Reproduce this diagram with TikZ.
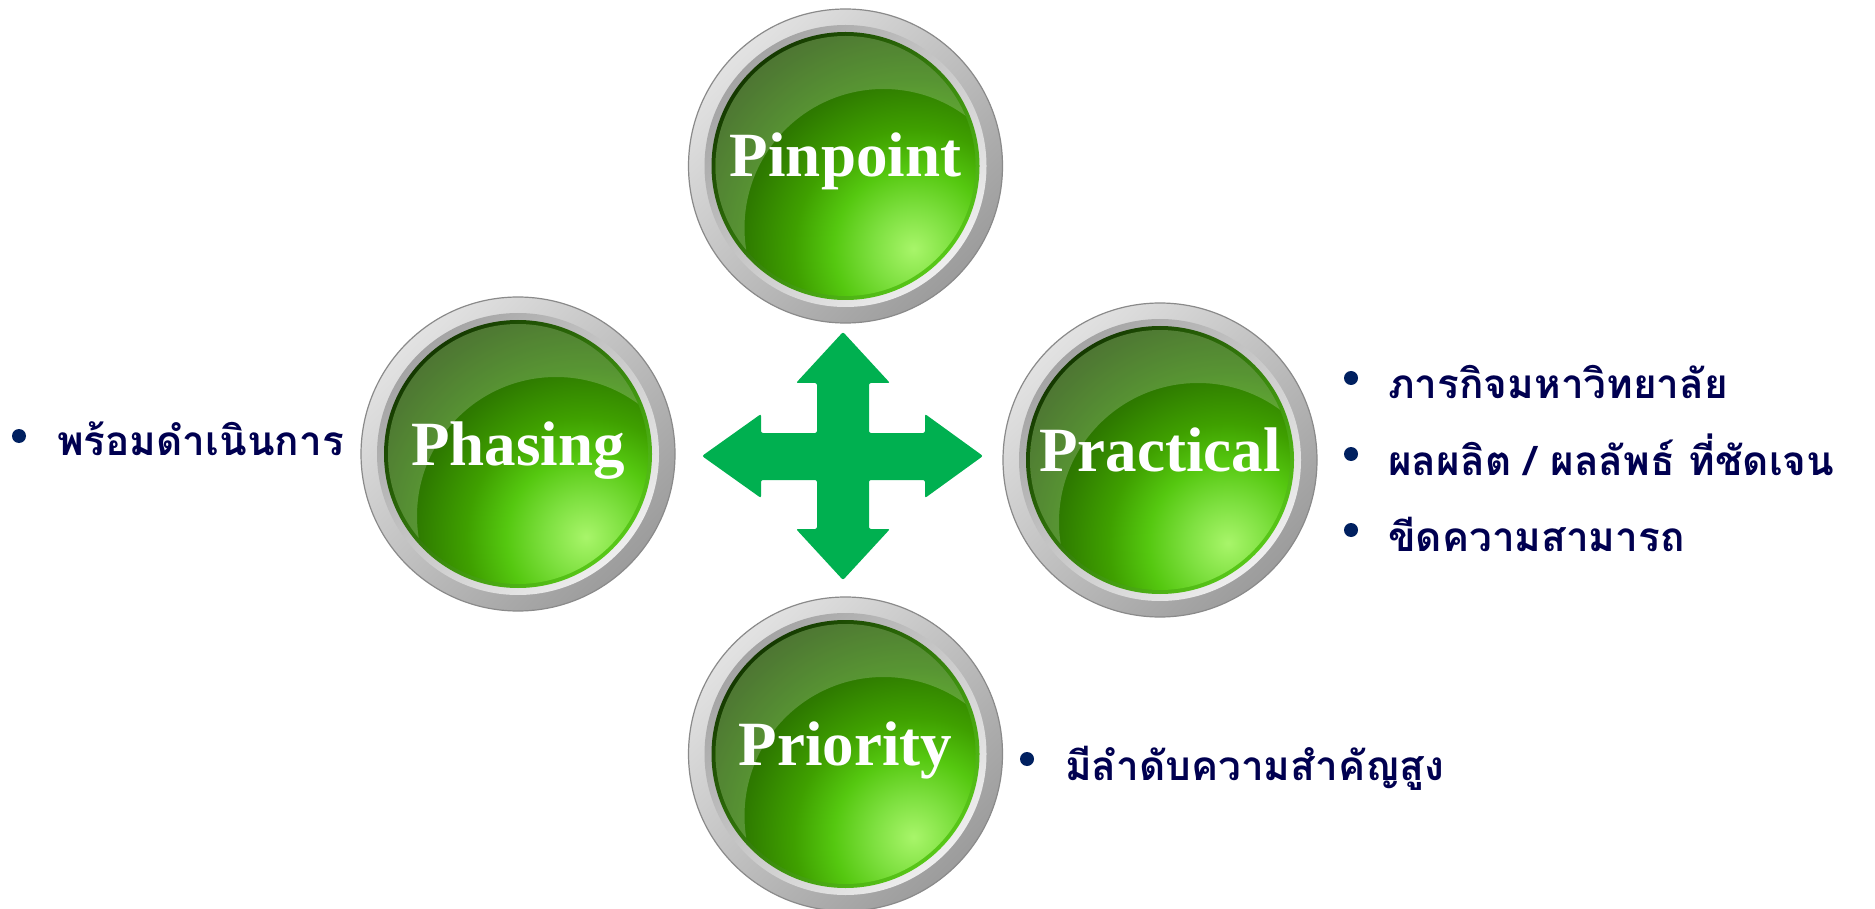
\documentclass[tikz,border=0pt]{standalone}
\usepackage{fontspec}
\setmainfont{Liberation Serif}
\newfontfamily\thaifont[Script=Thai]{Loma}
\usetikzlibrary{calc}
\definecolor{arrowgreen}{HTML}{00B050}
\definecolor{navytext}{HTML}{000050}
\definecolor{bulletblue}{HTML}{002060}
\definecolor{lgA}{HTML}{A8F56A}
\definecolor{lgB}{HTML}{7EE040}
\definecolor{lgC}{HTML}{55C810}
\definecolor{lgD}{HTML}{3FA000}
\definecolor{lgE}{HTML}{2E7A00}
\definecolor{lgF}{HTML}{235800}
\definecolor{lgG}{HTML}{1E4E00}
\definecolor{ringlight}{HTML}{E2E2E2}
\definecolor{ringdark}{HTML}{9C9C9C}
\definecolor{ringedge}{HTML}{8A8A8A}
\definecolor{bevdark}{HTML}{A4A4A4}
\definecolor{bevlight}{HTML}{EEEEEE}
\definecolor{rimdark}{HTML}{143800}
\definecolor{rimlight}{HTML}{58C818}
\pgfdeclareradialshading{greenradial}{\pgfpointorigin}{color(0bp)=(lgA); color(3.85bp)=(lgB); color(7.7bp)=(lgC); color(11.5bp)=(lgD); color(16.35bp)=(lgE); color(22.1bp)=(lgF); color(25bp)=(lgG); color(50bp)=(lgG)}
\tikzset{
  ringouter/.style={top color=ringlight, bottom color=ringdark, shading angle=45, draw=ringedge, line width=1.2pt},
  ringinner/.style={top color=bevdark, bottom color=bevlight, shading angle=45},
  rimshade/.style={top color=rimdark, bottom color=rimlight, shading angle=45},
  btnlabel/.style={text=white, font=\bfseries\fontsize{63}{70}\selectfont, inner sep=0pt},
  bulletdot/.style={circle, fill=bulletblue, inner sep=0pt, minimum size=14pt},
  thaitext/.style={text=navytext, font=\thaifont\bfseries\fontsize{40.5}{48}\selectfont, inner sep=0pt, anchor=base west},
  crossarrow/.style={fill=arrowgreen, rounded corners=2pt}
}
\newcommand\gbutton[4]{%
  \coordinate (#1c) at (#2,#3);
  \path[ringouter] (#1c) circle (157pt);
  \path[ringinner] (#1c) circle (141pt);
  \path[rimshade] (#1c) circle (134pt);
  \begin{scope}
    \clip (#1c) circle (130pt);
    \path[shading=greenradial] ($(#1c)+(68,83)$) circle (260pt);
    \fill[white, opacity=.2, even odd rule] (#1c) circle (136pt) ($(#1c)+(38,62)$) circle (139pt);
  \end{scope}
  \node[btnlabel, anchor=base] (#1) at ($(#1c)+(0,11)$) {#4};
}
\begin{document}
\begin{tikzpicture}[x=1pt, y=-1pt]
\useasboundingbox (0,0) rectangle (1875,909);
\fill[white] (0,0) rectangle (1875,909);

\gbutton{pinpoint}{845.5}{166}{Pinpoint}
\gbutton{phasing}{518}{454}{Phasing}
\gbutton{practical}{1160}{460}{Practical}
\gbutton{priority}{845.5}{754}{Priority}

% four-way arrow
\path[crossarrow] (843,332) -- (890,383) -- (869,383) -- (869,433) -- (925,433) -- (925,414)
  -- (983,456) -- (925,498) -- (925,480) -- (869,480) -- (869,529) -- (890,529)
  -- (843,580) -- (796,529) -- (817,529) -- (817,480) -- (761,480) -- (761,498)
  -- (702,456) -- (761,414) -- (761,433) -- (817,433) -- (817,383) -- (796,383) -- cycle;

% left text
\node[bulletdot] (bl) at (19,436) {};
\node[thaitext] (tl) at (57,455) {พร้อมดำเนินการ};

% right texts
\node[bulletdot] (br1) at (1351,378) {};
\node[thaitext] (tr1) at (1388,399) {ภารกิจมหาวิทยาลัย};
\node[bulletdot] (br2) at (1351,454) {};
\node[thaitext] (tr2) at (1388,475) {ผลผลิต / ผลลัพธ์ ที่ชัดเจน};
\node[bulletdot] (br3) at (1351,530) {};
\node[thaitext] (tr3) at (1388,551) {ขีดความสามารถ};

% bottom text
\node[bulletdot] (bb) at (1027,759) {};
\node[thaitext] (tb) at (1065,780) {มีลำดับความสำคัญสูง};
\end{tikzpicture}
\end{document}
